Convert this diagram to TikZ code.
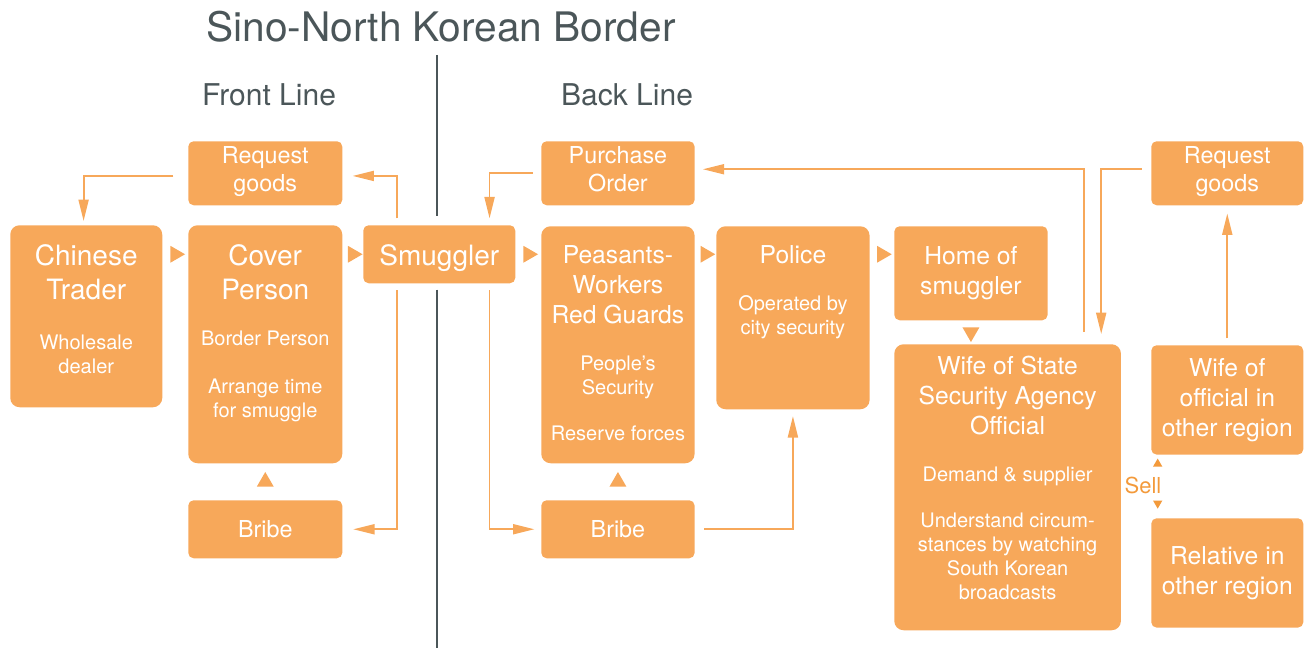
\documentclass[tikz,border=0pt]{standalone}
\usepackage{fontspec}
\setmainfont{TeX Gyre Heros}
\usetikzlibrary{arrows.meta, shapes.geometric}

\definecolor{boxorange}{HTML}{F7A85A}
\definecolor{sellorange}{HTML}{F39A3B}
\definecolor{slate}{HTML}{4B5659}

\newcommand{\mainlbl}{\fontsize{21}{25.5}\selectfont}
\newcommand{\midlbl}{\fontsize{18.5}{22.5}\selectfont}
\newcommand{\reqlbl}{\fontsize{17.5}{21}\selectfont}
\newcommand{\sublbl}{\fontsize{15}{18}\selectfont}
\newcommand{\tbox}[3]{\parbox[c][#2][t]{#1}{\centering #3}}
\newcommand{\cbox}[3]{\parbox[c][#2][c]{#1}{\centering #3}}

\tikzset{
  box/.style={fill=boxorange, text=white, rounded corners=4pt, inner sep=0pt, anchor=north west},
  tallbox/.style={box, rounded corners=7pt},
  flow/.style={draw=boxorange, line width=1.4pt, -{Triangle[length=16pt, width=7.5pt]}},
  tipmark/.style={isosceles triangle, isosceles triangle apex angle=60, fill=boxorange, inner sep=0pt, minimum size=11pt, sloped, allow upside down},
  sellmark/.style={isosceles triangle, isosceles triangle apex angle=60, fill=sellorange, inner sep=0pt, minimum size=6pt},
  borderline/.style={draw=slate, line width=1.4pt},
  heading/.style={text=slate, anchor=base}
}

\begin{document}
\begin{tikzpicture}[x=0.75pt, y=-0.75pt]
    \useasboundingbox (0,0) rectangle (1308,648);

    % headings and the border
    \node[heading, font=\fontsize{30.5}{36}\selectfont] (title) at (441,42) {Sino-North Korean Border};
    \node[heading, font=\fontsize{22.5}{27}\selectfont] (front) at (269,106) {Front Line};
    \node[heading, font=\fontsize{22.5}{27}\selectfont] (back) at (627,106) {Back Line};

    % front line
    \node[box] (reqL) at (188,141) {\tbox{115.5pt}{48pt}{\reqlbl\rule{0pt}{16.5pt}Request\\goods}};
    \node[tallbox] (chinese) at (10,225) {\tbox{114pt}{136.5pt}{\mainlbl\rule{0pt}{30pt}Chinese\\Trader\par\vspace{20pt}\sublbl Wholesale\\dealer}};
    \node[tallbox] (cover) at (188,225) {\tbox{115.5pt}{178.5pt}{\mainlbl\rule{0pt}{30pt}Cover\\Person\par\vspace{17pt}\sublbl Border Person\par\vspace{17.5pt}Arrange time\\for smuggle}};
    \node[box] (smuggler) at (363,225) {\tbox{114pt}{43.5pt}{\mainlbl\rule{0pt}{30.5pt}Smuggler}};
    \node[box] (bribeL) at (188,500) {\cbox{115.5pt}{43.5pt}{\reqlbl Bribe}};

    % back line
    \node[box] (purchase) at (541,141) {\tbox{115pt}{48pt}{\reqlbl\rule{0pt}{16.5pt}Purchase\\Order}};
    \node[tallbox] (peasants) at (541,226) {\tbox{115pt}{177.75pt}{\midlbl\rule{0pt}{28pt}Peasants-\\Workers\\Red Guards\par\vspace{17pt}\sublbl People's\\Security\par\vspace{17pt}Reserve forces}};
    \node[box] (bribeM) at (541,500) {\cbox{115pt}{43.5pt}{\reqlbl Bribe}};
    \node[tallbox] (police) at (716,226) {\tbox{115pt}{137.25pt}{\midlbl\rule{0pt}{28pt}Police\par\vspace{17pt}\sublbl Operated by\\city security}};
    \node[box] (home) at (894,226) {\cbox{115pt}{70.5pt}{\midlbl Home of\\smuggler}};
    \node[tallbox] (wife) at (894,344) {\tbox{170pt}{214.5pt}{\midlbl\rule{0pt}{23pt}Wife of State\\Security Agency\\Official\par\vspace{17pt}\sublbl Demand \& supplier\par\vspace{16.5pt}Understand circum-\\stances by watching\\South Korean\\broadcasts}};
    \node[box] (reqR) at (1151,141) {\tbox{114pt}{48pt}{\reqlbl\rule{0pt}{16.5pt}Request\\goods}};
    \node[box] (wifeO) at (1151,345) {\cbox{114pt}{82pt}{\midlbl Wife of\\official in\\other region}};
    \node[box] (relative) at (1151,518) {\cbox{114pt}{82pt}{\midlbl Relative in\\other region}};

    \coordinate (btop) at (437,55);
    \coordinate (bbot) at (437,648);
    \draw[borderline] (btop) -- ([yshift=7pt]btop |- smuggler.north);
    \draw[borderline] ([yshift=-4.5pt]btop |- smuggler.south) -- (bbot);

    % plain markers
    \path (chinese.east |- smuggler) -- node[tipmark] {} (cover.west |- smuggler);
    \path (cover.east |- smuggler) -- node[tipmark] {} (smuggler.west);
    \path (smuggler.east) -- node[tipmark] {} (peasants.west |- smuggler);
    \path (peasants.east |- smuggler) -- node[tipmark] {} (police.west |- smuggler);
    \path (police.east |- smuggler) -- node[tipmark] {} (home.west |- smuggler);
    \path (home.south) -- node[tipmark] {} (home.south |- wife.north);
    \path (bribeL.north) -- node[tipmark] {} (cover.south);
    \path (bribeM.north) -- node[tipmark] {} (peasants.south);

    % flows
    \draw[flow, shorten <=5pt, shorten >=7.5pt] ([xshift=25.5pt]smuggler.north west) |- ([yshift=-2pt]reqL.east);
    \draw[flow, shorten <=11pt, shorten >=3pt] ([yshift=-2pt]reqL.west) -| ([xshift=-2pt]chinese.north);
    \draw[flow, shorten <=5pt, shorten >=8pt] ([xshift=25.5pt]smuggler.south west) |- (bribeL.east);
    \draw[flow, shorten <=5pt, shorten >=5pt] ([xshift=-19.5pt]smuggler.south east) |- (bribeM.west);
    \draw[flow, shorten <=6pt, shorten >=5pt] (purchase.west) -| ([xshift=-19.5pt]smuggler.north east);
    \draw[flow, shorten <=7pt, shorten >=5pt] (bribeM.east) -| (police.south);
    \draw[flow, shorten <=9pt, shorten >=6pt] ([xshift=-27.75pt]wife.north east) |- ([yshift=3pt]purchase.east);
    \draw[flow, shorten <=7pt, shorten >=7.5pt] ([yshift=3pt]reqR.west) -| ([xshift=-15pt]wife.north east);
    \draw[flow, shorten <=5pt, shorten >=6pt] (wifeO.north) -- (reqR.south);

    % sell
    \node[text=sellorange, font=\fontsize{16.5}{20}\selectfont, anchor=base] (sell) at (1143,493) {Sell};
    \node[sellmark, rotate=90] (sellup) at ([xshift=5pt, yshift=-6.75pt]wifeO.south west) {};
    \node[sellmark, rotate=-90] (selldown) at ([xshift=5pt, yshift=11pt]relative.north west) {};
\end{tikzpicture}
\end{document}
